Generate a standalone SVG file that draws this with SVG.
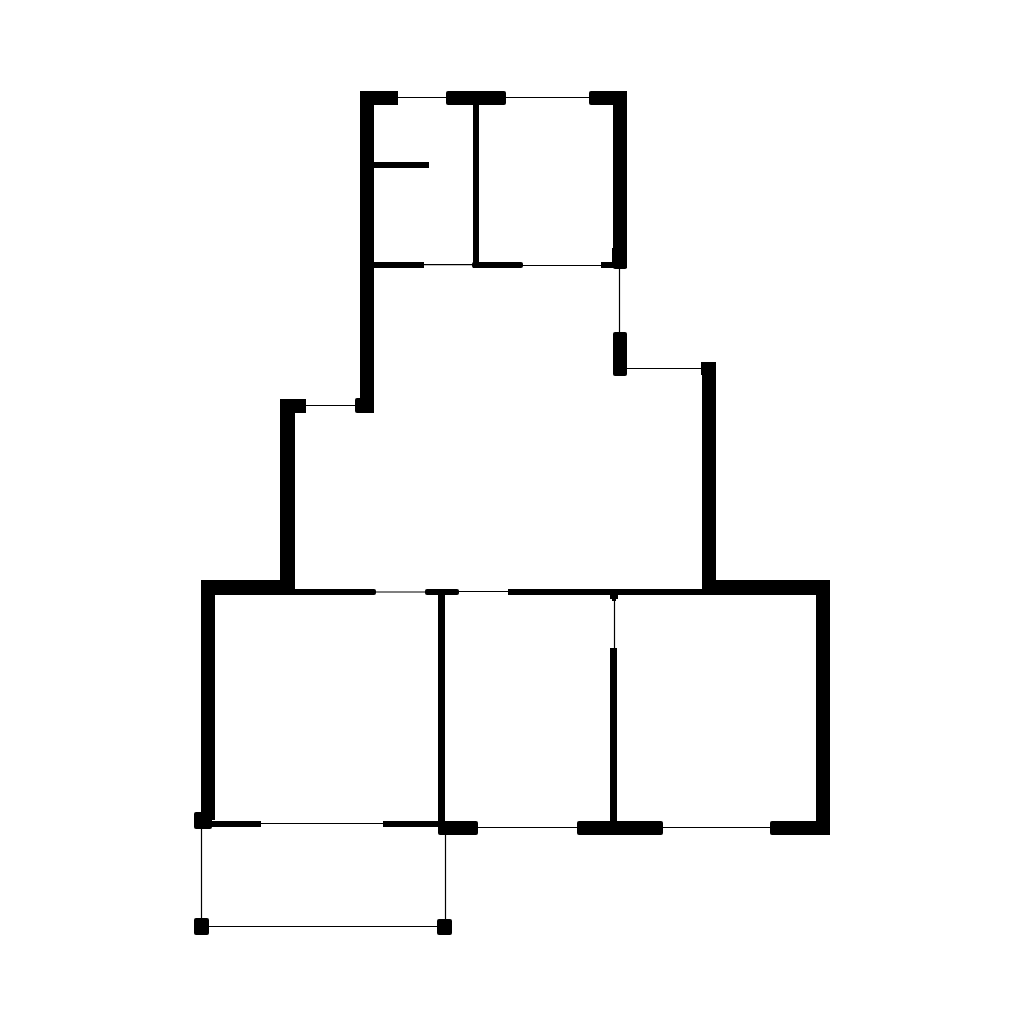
<svg xmlns="http://www.w3.org/2000/svg" width="1024" height="1024" viewBox="0 0 1024 1024">
<style>
rect{fill:#000}
.r{rx:2px;ry:2px}
line{stroke:#000;stroke-width:1.2;fill:none}
</style>
<rect width="1024" height="1024" style="fill:#fff"/>
<g id="thin-lines">
<line x1="398" y1="97.500" x2="446" y2="97.500"/>
<line x1="506" y1="97.500" x2="589" y2="97.500"/>
<line x1="424" y1="264.700" x2="472" y2="264.700"/>
<line x1="523" y1="265.500" x2="601" y2="265.500"/>
<line x1="619.500" y1="269" x2="619.500" y2="332"/>
<line x1="627" y1="368.500" x2="701" y2="368.500"/>
<line x1="306" y1="405.500" x2="355" y2="405.500"/>
<line x1="376" y1="592" x2="425" y2="592"/>
<line x1="459" y1="591.500" x2="508" y2="591.500"/>
<line x1="614.500" y1="600" x2="614.500" y2="648"/>
<line x1="261" y1="823.500" x2="383" y2="823.500"/>
<line x1="478" y1="827.500" x2="577" y2="827.500"/>
<line x1="663" y1="827.500" x2="770" y2="827.500"/>
<line x1="201.500" y1="829" x2="201.500" y2="918"/>
<line x1="445.500" y1="835" x2="445.500" y2="919"/>
<line x1="209" y1="926.500" x2="437" y2="926.500"/>
</g>
<g id="upper-walls">
<rect x="360" y="91" width="14" height="322"/>
<rect x="360" y="91" width="38" height="14"/>
<rect x="355" y="398" width="19" height="15" class="r"/>
<rect x="374" y="162" width="55" height="6"/>
<rect x="374" y="262" width="50" height="6"/>
<rect x="446" y="91" width="60" height="14" class="r"/>
<rect x="473" y="91" width="6" height="177"/>
<rect x="472" y="262" width="51" height="6" class="r"/>
<rect x="613" y="91" width="14" height="14"/>
<rect x="589" y="91" width="38" height="14" class="r"/>
<rect x="613" y="91" width="14" height="178" class="r"/>
<rect x="601" y="262" width="26" height="6"/>
<rect x="612" y="248" width="6" height="20"/>
<rect x="613" y="332" width="14" height="44" class="r"/>
</g>
<g id="middle-walls">
<rect x="280" y="399" width="26" height="14"/>
<rect x="280" y="399" width="15" height="190"/>
<rect x="701" y="362" width="15" height="13"/>
<rect x="702" y="362" width="14" height="228"/>
</g>
<g id="lower-walls">
<rect x="201" y="580" width="94" height="15" class="r"/>
<rect x="280" y="580" width="15" height="15"/>
<rect x="280" y="589" width="96" height="6" class="r"/>
<rect x="201" y="580" width="14" height="240"/>
<rect x="425" y="589" width="34" height="6" class="r"/>
<rect x="438" y="589" width="7" height="238"/>
<rect x="508" y="589" width="208" height="6"/>
<rect x="702" y="580" width="128" height="15"/>
<rect x="816" y="580" width="14" height="255"/>
<rect x="610" y="595" width="8" height="4"/>
<rect x="612" y="598" width="4" height="3"/>
<rect x="610" y="648" width="7" height="175"/>
<rect x="194" y="812" width="18" height="17" class="r"/>
<rect x="212" y="821" width="49" height="6"/>
<rect x="383" y="821" width="56" height="6"/>
<rect x="438" y="821" width="40" height="14" class="r"/>
<rect x="577" y="821" width="86" height="14" class="r"/>
<rect x="770" y="821" width="60" height="14" class="r"/>
<rect x="194" y="918" width="15" height="17" class="r"/>
<rect x="437" y="919" width="15" height="16" class="r"/>
</g>
</svg>
